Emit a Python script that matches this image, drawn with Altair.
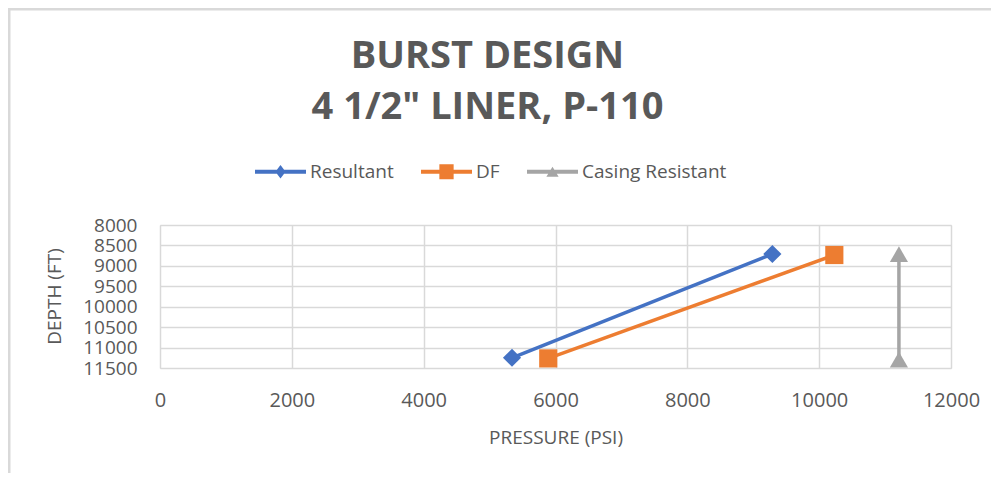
import altair as alt
import pandas as pd

# ---- data ----
series = ["Resultant", "DF", "Casing Resistant"]
pressure_top = [9290, 10230, 11210]
depth_top = [8710, 8735, 8715]
pressure_bottom = [5340, 5890, 11210]
depth_bottom = [11250, 11265, 11295]

x_ticks = [0, 2000, 4000, 6000, 8000, 10000, 12000]
y_ticks = [8000, 8500, 9000, 9500, 10000, 10500, 11000, 11500]

colors = ["#4472C4", "#ED7D31", "#A5A5A5"]
shapes = ["diamond", "square", "triangle-up"]

rows = []
for s, p1, d1, p2, d2 in zip(series, pressure_top, depth_top, pressure_bottom, depth_bottom):
    rows.append({"series": s, "pressure": p1, "depth": d1})
    rows.append({"series": s, "pressure": p2, "depth": d2})
df = pd.DataFrame(rows)

FONT = "Open Sans"
GREY_TXT = "#595959"
GRID = "#D9D9D9"

# legend symbols: line with marker (custom paths, unit range [-1, 1])
bar = "M-1,-0.08H1V0.08H-1Z"
legend_paths = [
    bar + "M0,-0.26L0.2,0L0,0.26L-0.2,0Z",
    bar + "M-0.28,-0.29H0.28V0.29H-0.28Z",
    bar + "M0,-0.2L0.24,0.2L-0.24,0.2Z",
]

legend = alt.Legend(
    title=None,
    orient="none",
    direction="horizontal",
    legendX=95,
    legendY=-79,
    symbolSize=2601,
    symbolStrokeWidth=0,
    symbolOpacity=1,
    labelFont=FONT,
    labelFontSize=19,
    labelColor=GREY_TXT,
    labelOffset=4,
    columnPadding=27,
    padding=0,
)

x = alt.X(
    "pressure:Q",
    scale=alt.Scale(domain=[0, 12000], nice=False, zero=False),
    axis=alt.Axis(
        values=x_ticks,
        format="d",
        title="PRESSURE (PSI)",
        grid=True,
        gridColor=GRID,
        gridWidth=1.5,
        domain=False,
        ticks=False,
        labelFont=FONT,
        labelFontSize=20,
        labelColor=GREY_TXT,
        labelPadding=22,
        labelFlush=False,
        titleFont=FONT,
        titleFontSize=19,
        titleFontWeight="normal",
        titleColor=GREY_TXT,
        titleBaseline="alphabetic",
        titleY=75,
    ),
)
y = alt.Y(
    "depth:Q",
    scale=alt.Scale(domain=[8000, 11500], reverse=True, nice=False, zero=False),
    axis=alt.Axis(
        values=y_ticks,
        format="d",
        title="DEPTH (FT)",
        grid=True,
        gridColor=GRID,
        gridWidth=1.5,
        domain=False,
        ticks=False,
        labelFont=FONT,
        labelFontSize=19,
        labelColor=GREY_TXT,
        labelPadding=23,
        labelBaseline="middle",
        labelFlush=False,
        labelOverlap=False,
        titleFont=FONT,
        titleFontSize=19,
        titleFontWeight="normal",
        titleColor=GREY_TXT,
        titleBaseline="alphabetic",
        titleX=-100,
        titleY=71,
        titleAlign="center",
        titleAngle=270,
    ),
)

base = alt.Chart(df)

series_layers = []
for s, col, shp in zip(series, colors, shapes):
    sub = base.transform_filter(alt.datum.series == s)
    series_layers.append(
        sub.mark_line(strokeWidth=3.5, color=col).encode(x=x, y=y, order=alt.Order("depth:Q"))
    )
    series_layers.append(
        sub.mark_point(filled=True, opacity=1, size=330, shape=shp, color=col).encode(x=x, y=y)
    )

# empty layer that only carries the legend (line + marker symbols)
legend_layer = (
    base.transform_filter("false")
    .mark_point(filled=True, opacity=1)
    .encode(
        x=x,
        y=y,
        color=alt.Color("series:N", scale=alt.Scale(domain=series, range=colors),
                        legend=legend, sort=series),
        shape=alt.Shape("series:N", scale=alt.Scale(domain=series, range=legend_paths),
                        legend=legend, sort=series),
    )
)

frame = alt.Chart(alt.Data(values=[{}])).mark_rule(color=GRID, strokeWidth=3).encode(
    x=alt.value(-151), x2=alt.value(-151), y=alt.value(-217), y2=alt.value(260)
)
frame_top = alt.Chart(alt.Data(values=[{}])).mark_rule(color=GRID, strokeWidth=3).encode(
    x=alt.value(-152), x2=alt.value(840), y=alt.value(-216), y2=alt.value(-216)
)

chart = (
    alt.layer(frame, frame_top, *series_layers, legend_layer)
    .properties(
        width=791,
        height=143,
        autosize=alt.AutoSizeParams(type="none"),
        padding={"left": 152, "top": 217, "right": 40, "bottom": 105},
        title=alt.TitleParams(
            text=["BURST DESIGN", '4 1/2" LINER, P-110'],
            font=FONT,
            fontSize=38,
            fontWeight="bold",
            color=GREY_TXT,
            anchor="middle",
            lineHeight=51,
            dx=-68,
            offset=-120,
        ),
    )
    .configure_view(stroke=GRID, strokeWidth=1.5)
    .configure(background="white")
)

chart.save("out.html", embed_options={"renderer": "svg", "actions": False})
